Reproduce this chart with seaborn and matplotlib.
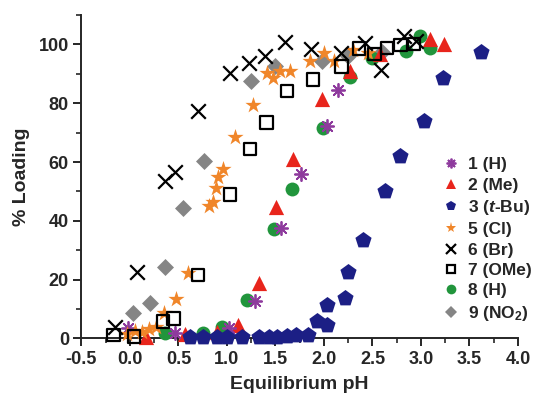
import matplotlib
matplotlib.use('Agg')
import matplotlib.pyplot as plt
from matplotlib.lines import Line2D
from matplotlib.ticker import MultipleLocator
import seaborn as sns
import pandas as pd

# --- data (pH, % loading) ---
ph_1 = [-0.02, 0.46, 1.02, 1.29, 1.56, 1.76, 2.03, 2.15]
load_1 = [3.5, 1.7, 3.4, 12.8, 37.7, 55.8, 72.1, 84.4]

ph_2 = [0.17, 0.57, 0.90, 1.11, 1.33, 1.51, 1.68, 1.98, 2.27, 2.58, 3.09, 3.24]
load_2 = [0.5, 1.5, 2.3, 4.5, 18.8, 44.6, 61.0, 81.3, 90.9, 96.6, 101.7, 100.2]

ph_3 = [0.62, 0.75, 0.90, 1.00, 1.16, 1.33, 1.43, 1.52, 1.62, 1.71, 1.84,
        1.93, 2.03, 2.03, 2.22, 2.25, 2.40, 2.63, 2.78, 3.03, 3.23, 3.62]
load_3 = [0.5, 0.4, 0.6, 0.5, 0.6, 0.6, 0.6, 0.6, 0.8, 1.1, 1.1,
          6.0, 4.5, 11.3, 13.6, 22.4, 33.6, 50.0, 62.1, 74.1, 88.7, 97.5]

ph_5 = [-0.03, 0.05, 0.12, 0.20, 0.27, 0.35, 0.48, 0.60, 0.82, 0.86, 0.89, 0.91,
        0.96, 1.08, 1.27, 1.41, 1.48, 1.55, 1.65, 1.86, 2.00, 2.10, 2.30, 2.45]
load_5 = [1.5, 2.5, 2.0, 3.0, 4.0, 8.5, 13.5, 22.2, 45.2, 46.5, 51.0, 55.0,
          57.6, 68.6, 79.4, 90.4, 88.7, 91.0, 91.0, 94.3, 97.2, 94.3, 98.2, 97.0]

ph_6 = [-0.15, 0.07, 0.36, 0.46, 0.70, 1.03, 1.23, 1.39, 1.60, 1.87, 2.18,
        2.42, 2.59, 2.83, 2.95]
load_6 = [4.0, 22.4, 53.4, 56.7, 77.4, 90.4, 93.8, 96.0, 100.9, 98.3, 97.2,
          100.5, 91.3, 102.8, 101.3]

ph_7 = [-0.17, 0.04, 0.34, 0.45, 0.70, 1.03, 1.24, 1.41, 1.62, 1.89, 2.18,
        2.36, 2.52, 2.65, 2.79, 2.93]
load_7 = [1.1, 0.6, 5.7, 6.8, 21.6, 48.9, 64.4, 73.4, 84.2, 88.1, 92.5,
          98.6, 96.8, 98.9, 99.9, 100.1]

ph_8 = [0.36, 0.75, 0.95, 1.21, 1.49, 1.67, 1.99, 2.27, 2.50, 2.85, 2.99, 3.09]
load_8 = [1.7, 1.9, 4.0, 13.1, 37.1, 50.9, 71.7, 88.8, 95.5, 97.7, 102.8, 98.9]

ph_9 = [0.03, 0.21, 0.36, 0.55, 0.76, 1.25, 1.50, 1.98, 2.25, 2.60]
load_9 = [8.5, 12.0, 24.4, 44.3, 60.4, 87.6, 92.6, 94.3, 96.0, 97.5]

labels = ["1 (H)", "2 (Me)", "3 ($\\mathit{t}$-Bu)", "5 (Cl)", "6 (Br)",
          "7 (OMe)", "8 (H)", "9 (NO$_2$)"]

sns.set_style("ticks")
plt.rcParams['font.family'] = ['Liberation Sans', 'DejaVu Sans']
plt.rcParams['font.weight'] = 'bold'
plt.rcParams['mathtext.fontset'] = 'custom'
plt.rcParams['mathtext.rm'] = 'Liberation Sans:bold'
plt.rcParams['mathtext.it'] = 'Liberation Sans:bold:italic'
plt.rcParams['mathtext.bf'] = 'Liberation Sans:bold'

fig = plt.figure(figsize=(5.39, 4.04), dpi=100)
ax = fig.add_axes([0.151, 0.1626, 0.81, 0.80])

# series: (x, y, marker, size, face, edge, lw, legend size)
series = {
    labels[0]: (ph_1, load_1, (8, 2, 0), 90, '#8e3a9d', '#8e3a9d', 1.3, 7),
    labels[1]: (ph_2, load_2, '^', 120, '#e8251c', '#e8251c', 0, 7),
    labels[2]: (ph_3, load_3, 'p', 150, '#1c1f85', '#1c1f85', 0, 7),
    labels[3]: (ph_5, load_5, '*', 150, '#f0862a', '#f0862a', 0, 8),
    labels[4]: (ph_6, load_6, 'x', 110, 'black', 'black', 1.6, 7),
    labels[5]: (ph_7, load_7, 's', 80, 'none', 'black', 1.6, 6),
    labels[6]: (ph_8, load_8, 'o', 100, '#21953c', '#21953c', 0, 7),
    labels[7]: (ph_9, load_9, 'D', 75, '#858585', '#858585', 0, 6),
}

draw_order = [labels[7], labels[6], labels[1], labels[0], labels[2],
              labels[3], labels[5], labels[4]]
for name in draw_order:
    x, y, m, s, fc, ec, lw, _ = series[name]
    df = pd.DataFrame({"pH": x, "load": y})
    if fc == 'none':
        ax.scatter(df["pH"], df["load"], marker=m, s=s, facecolors='none',
                   edgecolors=ec, linewidths=lw, clip_on=False, zorder=3)
    else:
        sns.scatterplot(data=df, x="pH", y="load", marker=m, s=s, color=fc,
                        edgecolor=ec, linewidth=lw, ax=ax, clip_on=False,
                        zorder=3)

ax.set_xlim(-0.5, 4.0)
ax.set_ylim(0, 110)
ax.xaxis.set_major_locator(MultipleLocator(0.5))
ax.xaxis.set_minor_locator(MultipleLocator(0.25))
ax.yaxis.set_major_locator(MultipleLocator(20))
ax.yaxis.set_minor_locator(MultipleLocator(10))
ax.set_xticks([-0.5, 0, 0.5, 1, 1.5, 2, 2.5, 3, 3.5, 4.0])
ax.set_xticklabels(["-0.5", "0.0", "0.5", "1.0", "1.5", "2.0", "2.5",
                    "3.0", "3.5", "4.0"])
ax.tick_params(which='major', direction='out', length=6, width=1.4,
               labelsize=13, pad=3)
ax.tick_params(which='minor', direction='out', length=3.5, width=1.2)
for side in ['left', 'bottom']:
    ax.spines[side].set_linewidth(1.4)
sns.despine(ax=ax)

ax.set_xlabel("Equilibrium pH", fontsize=14, fontweight='bold', labelpad=6)
ax.set_ylabel("% Loading", fontsize=14, fontweight='bold', labelpad=6)

handles = []
for name in labels:
    x, y, m, s, fc, ec, lw, ms = series[name]
    handles.append(Line2D([], [], linestyle='none', marker=m, markersize=ms,
                          markerfacecolor=fc, markeredgecolor=ec,
                          markeredgewidth=max(lw, 0.5) if lw else 0))
leg = ax.legend(handles, labels, loc='upper left',
                bbox_to_anchor=(0.808, 0.628), bbox_transform=fig.transFigure,
                frameon=False, fontsize=12.5, handlelength=1.0,
                handletextpad=0.5, labelspacing=0.3, borderaxespad=0)

fig.savefig("out.png", dpi=100)
